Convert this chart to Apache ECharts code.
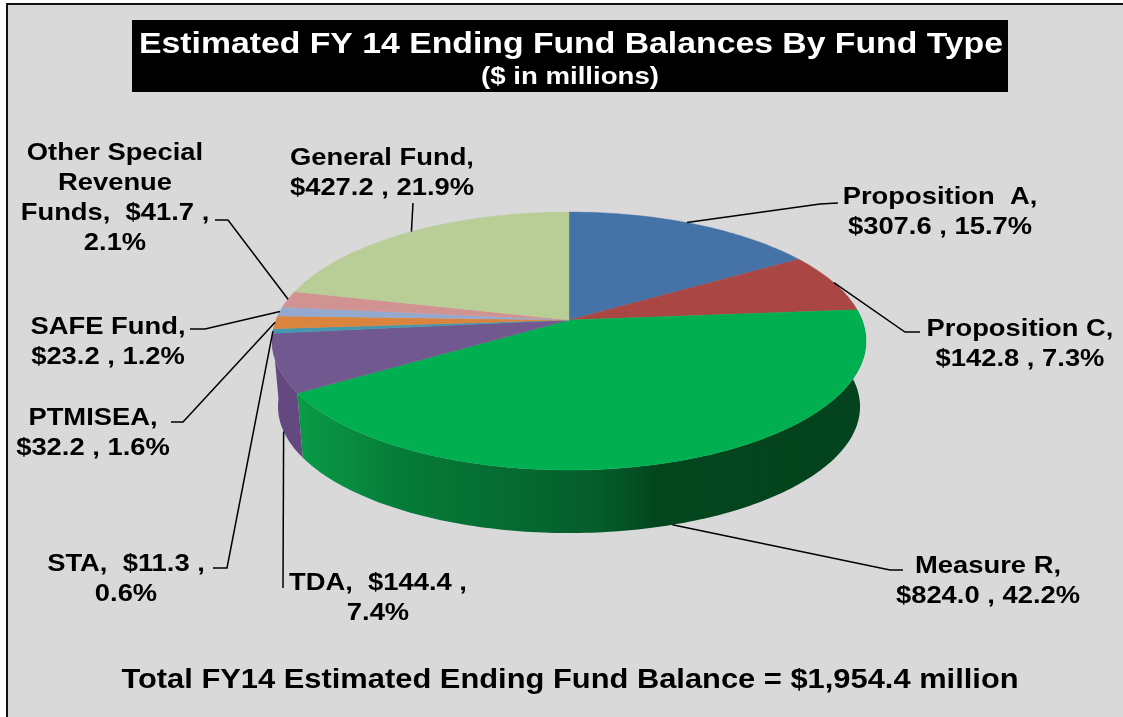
<!DOCTYPE html>
<html>
<head>
<meta charset="utf-8">
<style>html,body{margin:0;padding:0;background:#fff}#chart{width:1123px;height:717px}</style>
<script src="https://cdn.jsdelivr.net/npm/echarts@6/dist/echarts.min.js"></script>
</head>
<body>
<div id="chart"></div>
<script>
// fund balances, clockwise from 12 o'clock
var categories = ['Proposition A', 'Proposition C', 'Measure R', 'TDA', 'STA', 'PTMISEA', 'SAFE Fund', 'Other Special Revenue Funds', 'General Fund'];
var balances = [307.6, 142.8, 824.0, 144.4, 11.3, 32.2, 23.2, 41.7, 427.2];
var percents = [15.7, 7.3, 42.2, 7.4, 0.6, 1.6, 1.2, 2.1, 21.9];
var sliceColors = ['#4572a7', '#aa4643', '#00b050', '#71588f', '#4198af', '#db843d', '#93a9cf', '#d19392', '#b9cd96'];

var labelTexts = [
    'Proposition  A,\n$307.6 , 15.7%',
    'Proposition C,\n$142.8 , 7.3%',
    'Measure R,\n$824.0 , 42.2%',
    'TDA,  $144.4 ,\n7.4%',
    'STA,  $11.3 ,\n0.6%',
    'PTMISEA,\n$32.2 , 1.6%',
    'SAFE Fund,\n$23.2 , 1.2%',
    'Other Special\nRevenue\nFunds,  $41.7 ,\n2.1%',
    'General Fund,\n$427.2 , 21.9%'
];
var titleText = 'Estimated FY 14 Ending Fund Balances By Fund Type';
var subtitleText = '($ in millions)';
var footerText = 'Total FY14 Estimated Ending Fund Balance = $1,954.4 million';

// label centre, leader elbow and end; at = where in the slice the leader starts
var labelLayout = [
    {x: 940, y: 212, at: 0.47, rim: 'top', path: [[820, 204], [838, 203]]},
    {x: 1020, y: 344, at: 0.5, rim: 'top', path: [[905, 332], [920, 332]]},
    {x: 988, y: 581, at: 0.5, rim: 'bottom', path: [[890, 570], [903, 570]]},
    {x: 378, y: 598, at: 0.45, rim: 'bottom', path: [[283, 588]]},
    {x: 126, y: 579, at: 0.5, rim: 'top', path: [[227, 568], [213, 568]]},
    {x: 93, y: 433, at: 0.5, rim: 'top', path: [[183, 422], [171, 422]]},
    {x: 108, y: 342, at: 0.5, rim: 'top', path: [[205, 329], [190, 329]]},
    {x: 115, y: 198, at: 0.5, rim: 'top', path: [[228, 220], [215, 220]]},
    {x: 382, y: 173, at: 0.51, rim: 'top', path: [[413, 203]]}
];

// view of the pie: perspective disc, apex at cx,cy
var cx = 569, cy = 320, rxView = 293, ryView = 125.6, persp = 0.163;
var rimScale = 0.98, rimDrop = 66;
var labelStretch = 1.14;

var total = balances.reduce(function (a, b) { return a + b; }, 0);
var cumStart = [];
balances.reduce(function (sum, v, i) { cumStart[i] = sum; return sum + v; }, 0);

function topPoint(deg) {
    var t = (deg + 3.5 * Math.sin(deg * Math.PI / 360)) * Math.PI / 180;
    var u = Math.sin(t), v = -Math.cos(t), d = 1 - persp * v;
    return [cx + rxView * u / d, cy + ryView * v / d];
}
function bottomPoint(deg) {
    var p = topPoint(deg);
    return [cx + (p[0] - cx) * rimScale, cy + (p[1] - cy) * rimScale + rimDrop];
}
function sliceAngles(i) {
    return [cumStart[i] / total * 360, (cumStart[i] + balances[i]) / total * 360];
}
function arc(fn, a0, a1) {
    var pts = [], n = Math.max(2, Math.ceil(Math.abs(a1 - a0)));
    for (var k = 0; k <= n; k++) pts.push(fn(a0 + (a1 - a0) * k / n));
    return pts;
}

var sliceData = categories.map(function (name, i) {
    return {name: name, value: [balances[i], percents[i]]};
});

var greenRim = new echarts.graphic.LinearGradient(296, 0, 866, 0, [
    {offset: 0, color: '#0a9c48'},
    {offset: 0.18, color: '#067c38'},
    {offset: 0.36, color: '#056c32'},
    {offset: 0.53, color: '#055d2b'},
    {offset: 0.63, color: '#03461e'},
    {offset: 1, color: '#03431d'}
], true);
var rimColors = {2: greenRim, 3: '#63497f'};

function renderRim(params, api) {
    var i = params.dataIndex;
    if (!rimColors[i]) return null;
    var a = sliceAngles(i);
    var pts = arc(topPoint, a[0], a[1]).concat(arc(bottomPoint, a[0], a[1]).reverse());
    return {type: 'polygon', shape: {points: pts}, style: {fill: rimColors[i]}};
}

function renderTop(params, api) {
    var i = params.dataIndex;
    var a = sliceAngles(i);
    var pts = [[cx, cy]].concat(arc(topPoint, a[0], a[1]));
    return {type: 'polygon', shape: {points: pts}, style: {fill: sliceColors[i], stroke: sliceColors[i], lineWidth: 0.4}};
}

function renderLabel(params, api) {
    var i = params.dataIndex;
    var l = labelLayout[i];
    var a = sliceAngles(i);
    var start = (l.rim === 'bottom' ? bottomPoint : topPoint)(a[0] + (a[1] - a[0]) * l.at);
    return {
        type: 'group',
        children: [{
            type: 'polyline',
            shape: {points: [start].concat(l.path)},
            style: {fill: 'none', stroke: '#000', lineWidth: 1.5}
        }, {
            type: 'text',
            x: l.x,
            y: l.y,
            scaleX: labelStretch,
            style: {
                text: labelTexts[i],
                x: 0,
                y: 0,
                align: 'center',
                verticalAlign: 'middle',
                font: 'bold 24px "Liberation Sans", Arial, sans-serif',
                lineHeight: 30,
                fill: '#000'
            }
        }]
    };
}

function headText(text, x, y, size, stretch, color) {
    return {
        type: 'text',
        z: 2,
        x: x,
        y: y,
        scaleX: stretch,
        style: {
            text: text,
            x: 0,
            y: 0,
            align: 'center',
            verticalAlign: 'middle',
            font: 'bold ' + size + 'px "Liberation Sans", Arial, sans-serif',
            fill: color
        }
    };
}

var chart = echarts.init(document.getElementById('chart'));
chart.setOption({
    animation: false,
    tooltip: {show: false},
    graphic: [
        {type: 'rect', z: 0, shape: {x: 7, y: 4, width: 1200, height: 800}, style: {fill: '#d9d9d9', stroke: '#111', lineWidth: 2}},
        {type: 'rect', z: 1, shape: {x: 132, y: 20, width: 876, height: 72}, style: {fill: '#000'}},
        headText(titleText, 571, 45, 30, 1.125, '#fff'),
        headText(subtitleText, 570, 78, 23, 1.2, '#fff'),
        headText(footerText, 570, 681, 27, 1.143, '#000')
    ],
    series: [
        {type: 'custom', coordinateSystem: 'none', z: 3, data: sliceData, renderItem: renderRim, silent: true},
        {type: 'custom', coordinateSystem: 'none', z: 4, data: sliceData, renderItem: renderTop, silent: true},
        {type: 'custom', coordinateSystem: 'none', z: 5, data: sliceData, renderItem: renderLabel, silent: true}
    ]
});
</script>
</body>
</html>
